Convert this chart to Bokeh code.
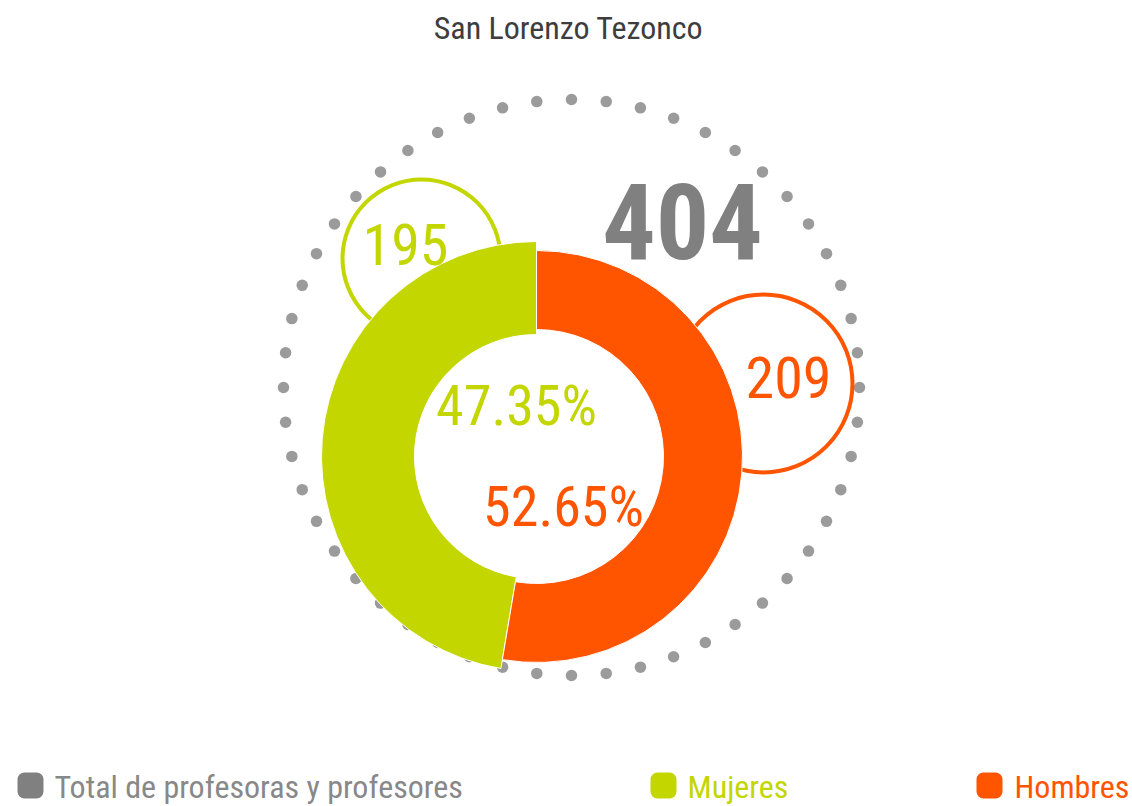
import math
from bokeh.plotting import figure
from bokeh.models import Range1d, ColumnDataSource
from bokeh.core.properties import value
from bokeh.embed import file_html
from bokeh.resources import INLINE

# ---- data ----
title = "San Lorenzo Tezonco"
categories = ["Mujeres", "Hombres"]
counts = [195, 209]
percentages = [47.35, 52.65]
total = 404
total_label = "Total de profesoras y profesores"
colors = ["#c3d600", "#ff5400"]
total_color = "#808080"
dot_color = "#9b9b9b"

FONT = value("Roboto Condensed")

W, H = 1132, 806


def X(sx):
    return sx


def Y(sy):
    return H - sy


def TB(sy, size):
    # baseline position in screen pixels -> data y (compensates text offset)
    return Y(sy - 0.37 * size)


p = figure(width=W, height=H, x_range=Range1d(0, W), y_range=Range1d(0, H),
           output_backend="svg", toolbar_location=None, min_border=0,
           x_axis_type=None, y_axis_type=None)
p.grid.visible = False
p.outline_line_color = None
p.background_fill_color = "white"
p.border_fill_color = "white"

# ---- dotted ring (decoration) ----
n_dots = 52
rcx, rcy, rr = X(571), Y(387), 288
dx = [rcx + rr * math.cos(2 * math.pi * i / n_dots) for i in range(n_dots)]
dy = [rcy + rr * math.sin(2 * math.pi * i / n_dots) for i in range(n_dots)]
p.scatter(dx, dy, size=11.5, color=dot_color, line_color=None)

# ---- count bubbles ----
bub_x = [X(421), X(763)]
bub_y = [Y(258), Y(383)]
bub_r = [79, 89]
p.circle(x=bub_x, y=bub_y, radius=bub_r, fill_color="white",
         line_color=colors, line_width=4)

# ---- donut ----
cx, cy = X(536), Y(456)
starts, ends = [], []
a = math.pi / 2
for pct in percentages:
    starts.append(a)
    a += 2 * math.pi * pct / 100.0
    ends.append(a)
donut = ColumnDataSource(dict(
    x=[cx] * len(categories), y=[cy] * len(categories),
    inner=[122, 127], outer=[215, 206],
    start=starts, end=ends, color=colors))
p.annular_wedge(x="x", y="y", inner_radius="inner", outer_radius="outer",
                start_angle="start", end_angle="end", fill_color="color",
                line_color="white", line_width=1, source=donut)

# ---- texts ----
s = 32
p.text(x=[X(568)], y=[TB(39, s)], text=[title], text_font=FONT,
       text_font_size=f"{s}px", text_color="#3d3d3d",
       text_align="center", text_baseline="alphabetic")

s = 106
p.text(x=[X(682)], y=[TB(260, s)], text=[str(total)], text_font=FONT,
       text_font_size=f"{s}px", text_font_style="bold", text_color=total_color,
       text_align="center", text_baseline="alphabetic")

s = 58
p.text(x=[X(405), X(788)], y=[TB(265, s), TB(398, s)],
       text=[str(c) for c in counts],
       text_font=FONT, text_font_size=f"{s}px", text_color=colors,
       text_align="center", text_baseline="alphabetic")

s = 56
p.text(x=[X(516), X(563)], y=[TB(426, s), TB(527, s)],
       text=["%.2f%%" % v for v in percentages],
       text_font=FONT, text_font_size=f"{s}px", text_color=colors,
       text_align="center", text_baseline="alphabetic")

# ---- legend ----
leg_labels = [total_label] + categories
leg_colors = [total_color] + colors
leg_left = [X(17), X(650), X(976)]
leg_text_x = [X(54), X(687), X(1014)]
p.quad(left=leg_left, right=[l + 26 for l in leg_left],
       top=[Y(772)] * 3, bottom=[Y(798)] * 3, fill_color=leg_colors,
       line_color=None, border_radius=7)
s = 32
p.text(x=leg_text_x, y=[TB(798, s)] * 3, text=leg_labels, text_font=FONT,
       text_font_size=f"{s}px", text_color=["#888888"] + colors,
       text_align="left", text_baseline="alphabetic")

open("out.html", "w").write(file_html(p, INLINE))
